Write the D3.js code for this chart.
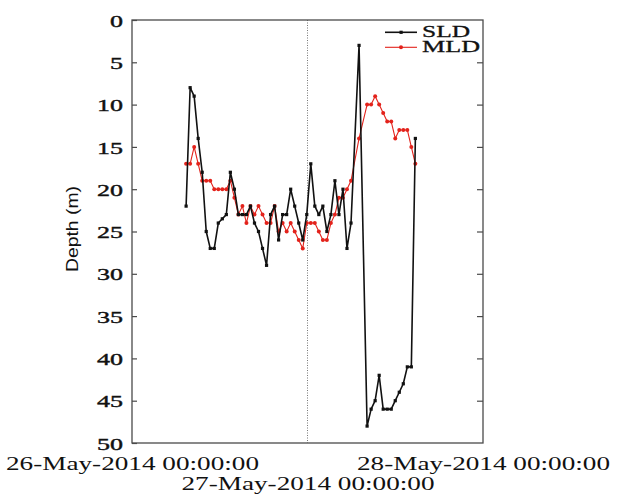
<!DOCTYPE html>
<html>
<head>
<meta charset="utf-8">
<script src="https://cdn.jsdelivr.net/npm/d3@7"></script>
<style>
  html, body { margin: 0; padding: 0; background: #fff; }
  svg { display: block; }
</style>
</head>
<body>
<svg id="chart" width="627" height="495"></svg>
<script>
// Sampling: one profile roughly every 33 minutes from 26 May 07:24
const sampleStart = new Date(2014, 4, 26, 7, 24);
const sampleStepMinutes = 33;

// Sonic layer depth (m); null = no profile
const sld = [22, 8, 9, 14, 18, 25, 27, 27, 24, 23.5,
             23, 18, 20, 23, 23, 23, 22, 24, 25, 27,
             29, 23, 22, 26, 23, 23, 20, 22, 24, 26,
             23, 17, 22, 23, 22, 25, 23, 19, 23, 20,
             27, 24, null, 3, null, 48, 46, 45, 42, 46,
             46, 46, 45, 44, 43, 41, 41, 14];

// Mixed layer depth (m)
const mld = [17, 17, 15, 17, 19, 19, 19, 20, 20, 20,
             20, 19, 21, 23, 22, 24, 22, 23, 22, 23,
             24, 24, 22, 25, 24, 25, 24, 25, 26, 27,
             24, 24, 24, 25, 26, 26, 24, 23, 21, 21,
             20, 19, null, 14, null, 10, 10, 9, 10, 11,
             12, 12, 14, 13, 13, 13, 15, 17];

const depthTicks = [0, 5, 10, 15, 20, 25, 30, 35, 40, 45, 50];
const dateTicks = [new Date(2014, 4, 26), new Date(2014, 4, 27), new Date(2014, 4, 28)];
const seriesNames = ["SLD", "MLD"];

const times = sld.map((_, i) => d3.timeMinute.offset(sampleStart, i * sampleStepMinutes));

const svg = d3.select("#chart");
const plotLeft = 132, plotRight = 483, plotTop = 20, plotBottom = 443;

const x = d3.scaleTime().domain([dateTicks[0], dateTicks[2]]).range([plotLeft, plotRight]);
const y = d3.scaleLinear().domain([0, 50]).range([plotTop, plotBottom]);

const serif = "'Liberation Serif', 'Times New Roman', serif";
const axisColor = "#4a4a4a";

// Reference line at 27 May 00:00
svg.append("line")
  .attr("x1", x(dateTicks[1])).attr("x2", x(dateTicks[1]))
  .attr("y1", plotTop).attr("y2", plotBottom)
  .attr("stroke", "#777").attr("stroke-width", 1)
  .attr("stroke-dasharray", "1,1.5");

// Frame
svg.append("rect")
  .attr("x", plotLeft).attr("y", plotTop)
  .attr("width", plotRight - plotLeft).attr("height", plotBottom - plotTop)
  .attr("fill", "none").attr("stroke", axisColor).attr("stroke-width", 1.3);

// Left depth axis, ticks pointing inward
const yAxis = svg.append("g")
  .attr("transform", `translate(${plotLeft},0)`)
  .call(d3.axisLeft(y).tickValues(depthTicks).tickSize(-5).tickPadding(9));
yAxis.select(".domain").remove();
yAxis.selectAll(".tick line").attr("stroke", axisColor).attr("stroke-width", 1.2);
yAxis.selectAll(".tick text")
  .attr("font-family", serif).attr("font-size", 17).attr("fill", "#111")
  .attr("stroke", "#111").attr("stroke-width", 0.4)
  .attr("dy", "0.36em")
  .attr("textLength", d => String(d).length * 13)
  .attr("lengthAdjust", "spacingAndGlyphs");

// Mirror ticks on the right edge
const yAxisR = svg.append("g")
  .attr("transform", `translate(${plotRight},0)`)
  .call(d3.axisLeft(y).tickValues(depthTicks.slice(1, -1)).tickSize(6).tickFormat(""));
yAxisR.select(".domain").remove();
yAxisR.selectAll(".tick line").attr("stroke", axisColor).attr("stroke-width", 1.2);

// Date axis
const xAxis = svg.append("g")
  .attr("transform", `translate(0,${plotBottom})`)
  .call(d3.axisBottom(x).tickValues(dateTicks).tickSize(0).tickPadding(0)
    .tickFormat(d3.timeFormat("%d-%b-%Y %H:%M:%S")));
xAxis.select(".domain").remove();
xAxis.selectAll(".tick text")
  .attr("font-family", serif).attr("font-size", 19).attr("fill", "#111")
  .attr("y", (d, i) => i === 1 ? 47 : 27)
  .attr("dy", 0)
  .attr("textLength", 253)
  .attr("lengthAdjust", "spacingAndGlyphs");

// Depth label
svg.append("text")
  .attr("transform", `translate(78,229) rotate(-90)`)
  .attr("text-anchor", "middle")
  .attr("font-family", "'Liberation Sans', Arial, sans-serif")
  .attr("font-size", 17).attr("fill", "#111")
  .attr("textLength", 86).attr("lengthAdjust", "spacingAndGlyphs")
  .text("Depth (m)");

// Series
const series = [
  { name: seriesNames[0], values: sld, color: "#111", width: 1.6, marker: "square" },
  { name: seriesNames[1], values: mld, color: "#e3221b", width: 1.1, marker: "circle" }
];

const line = d3.line().x(d => x(d.t)).y(d => y(d.v));

series.slice().reverse().forEach(s => {
  const pts = s.values.map((v, i) => ({ t: times[i], v })).filter(d => d.v !== null);
  svg.append("path")
    .datum(pts)
    .attr("d", line)
    .attr("fill", "none")
    .attr("stroke", s.color)
    .attr("stroke-width", s.width)
    .attr("stroke-linejoin", "round");
  const g = svg.append("g").attr("fill", s.color);
  if (s.marker === "square") {
    g.selectAll("rect").data(pts).join("rect")
      .attr("x", d => x(d.t) - 1.6).attr("y", d => y(d.v) - 1.6)
      .attr("width", 3.2).attr("height", 3.2);
  } else {
    g.selectAll("circle").data(pts).join("circle")
      .attr("cx", d => x(d.t)).attr("cy", d => y(d.v)).attr("r", 2);
  }
});

// Legend
const legend = svg.append("g");
series.forEach((s, i) => {
  const ly = 32.3 + i * 15;
  legend.append("line")
    .attr("x1", 385).attr("x2", 417).attr("y1", ly).attr("y2", ly)
    .attr("stroke", s.color).attr("stroke-width", s.width);
  if (s.marker === "square") {
    legend.append("rect").attr("x", 399.5).attr("y", ly - 1.6)
      .attr("width", 3.2).attr("height", 3.2).attr("fill", s.color);
  } else {
    legend.append("circle").attr("cx", 401).attr("cy", ly).attr("r", 2).attr("fill", s.color);
  }
  legend.append("text")
    .attr("x", 422).attr("y", ly + 4.5)
    .attr("font-family", serif).attr("font-size", 16).attr("fill", "#111")
    .attr("stroke", "#111").attr("stroke-width", 0.3)
    .attr("textLength", s.name === "SLD" ? 48 : 58)
    .attr("lengthAdjust", "spacingAndGlyphs")
    .text(s.name);
});
</script>
</body>
</html>
